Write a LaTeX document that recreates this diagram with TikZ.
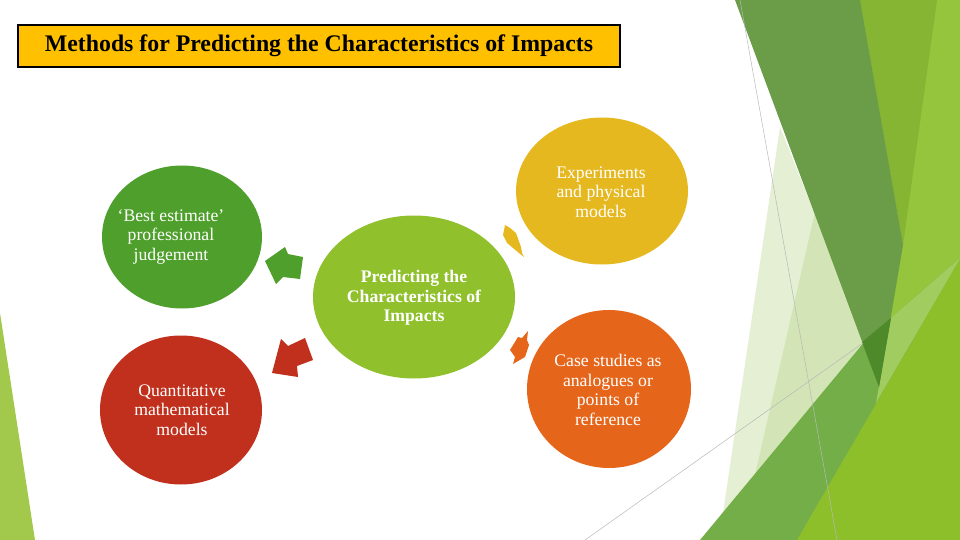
\documentclass[tikz,border=0pt]{standalone}
\usepackage{fontspec}
\setmainfont{Liberation Serif}
\usetikzlibrary{shapes.geometric}

\definecolor{titleyellow}{HTML}{FFC000}
\definecolor{judgegreen}{HTML}{4E9F2B}
\definecolor{modelred}{HTML}{C0301C}
\definecolor{hubgreen}{HTML}{90C12D}
\definecolor{testyellow}{HTML}{E6B820}
\definecolor{caseorange}{HTML}{E5661B}
\definecolor{leafA}{HTML}{95C43D}
\definecolor{leafB}{HTML}{86B433}
\definecolor{leafC}{HTML}{E4EFD3}
\definecolor{leafD}{HTML}{D3E5B6}
\definecolor{leafE}{HTML}{74AE48}
\definecolor{leafF}{HTML}{A0CC60}
\definecolor{leafG}{HTML}{6B9C48}
\definecolor{leafH}{HTML}{4E8A2A}
\definecolor{leafI}{HTML}{8DBF2B}
\definecolor{leafJ}{HTML}{A3C94C}

\begin{document}
\begin{tikzpicture}[
  x=1pt,y=-1pt,
  bubble/.style={ellipse,inner sep=0pt,draw=none},
  words/.style={align=center,text=white,font=\fontsize{17.7}{19.5}\selectfont},
  hairline/.style={draw=black!28,line width=0.5pt}
]
  \useasboundingbox (0,0) rectangle (960,540);

  % facets at the edges
  \fill[leafJ] (0,313) -- (35,540) -- (0,540) -- cycle;
  \fill[leafA] (850,0) rectangle (960,540);
  \fill[leafB] (860,0) -- (937,0) -- (903,245) -- cycle;
  \fill[leafC] (780,127) -- (866,343) -- (722,520) -- cycle;
  \fill[leafD] (815,212) -- (866,343) -- (755,475) -- cycle;
  \fill[leafE] (700,540) -- (866,340) -- (960,258) -- (960,540) -- cycle;
  \fill[leafF] (891,318) -- (960,258) -- (960,259) -- (876,403) -- cycle;
  \fill[leafG] (735,0) -- (860,0) -- (903,245) -- (879,387) -- cycle;
  \fill[leafH] (862,342) -- (891,318) -- (879,387) -- cycle;
  \fill[leafI] (797,540) -- (960,259) -- (960,540) -- cycle;
  \draw[hairline] (740,0) -- (837,540);
  \draw[hairline] (585,540) -- (863,343);

  % title
  \node[draw=black,line width=2pt,fill=titleyellow,minimum width=602pt,
    minimum height=42pt,inner sep=0pt,font=\bfseries\fontsize{23.8}{28}\selectfont]
    (title) at (319,46) {Methods for Predicting the Characteristics of Impacts};

  % circles
  \node[bubble,fill=hubgreen,minimum width=202pt,minimum height=163pt] (hub) at (414,297) {};
  \node[bubble,fill=judgegreen,minimum width=160pt,minimum height=143pt] (judge) at (182,237) {};
  \node[bubble,fill=modelred,minimum width=162pt,minimum height=149pt] (maths) at (181,410) {};
  \node[bubble,fill=testyellow,minimum width=172pt,minimum height=147pt] (tests) at (602,191) {};
  \node[bubble,fill=caseorange,minimum width=164pt,minimum height=158pt] (cases) at (609,389) {};

  \node[words,font=\bfseries\fontsize{17.7}{19.5}\selectfont] (hubtext) at (414,298)
    {Predicting the\\Characteristics of\\Impacts};
  \node[words] (judgetext) at (171,237) {‘Best estimate’\\professional\\judgement};
  \node[words] (mathstext) at (182,410) {Quantitative\\mathematical\\models};
  \node[words] (teststext) at (601,192) {Experiments\\and physical\\models};
  \node[words] (casestext) at (608,390) {Case studies as\\analogues or\\points of\\reference};

  % block arrows
  \fill[judgegreen] (265,261) -- (285,247) -- (288,254) -- (303,257) -- (300,279)
    -- (283,277) -- (276,284) -- cycle;
  \fill[modelred] (272,373) -- (281,339) -- (288,346) -- (305,338) -- (313,360)
    -- (297,366) -- (298,377) -- cycle;
  \fill[testyellow] (505,225) -- (510,228) -- (516,233) -- (521,247) -- (522,253)
    -- (524,257) -- (519,253) -- (507,243) -- (503,235) -- cycle;
  \fill[caseorange] (528,331) -- (527,340) -- (529,345) -- (525,357) -- (513,364)
    -- (515,357) -- (510,350) -- (518,337) -- (522,338) -- cycle;
\end{tikzpicture}
\end{document}
